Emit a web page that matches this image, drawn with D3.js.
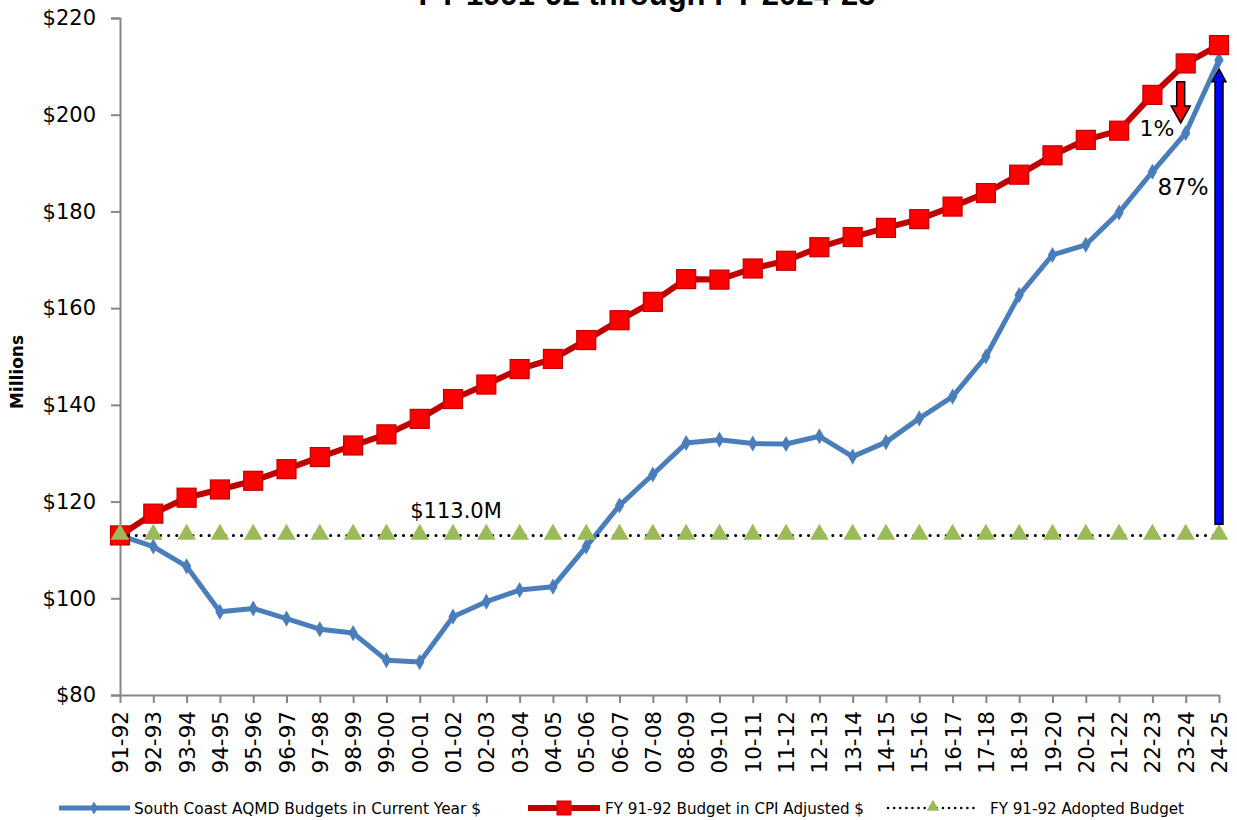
<!DOCTYPE html>
<html lang="en">
<head>
<meta charset="UTF-8">
<title>South Coast AQMD Budget History</title>
<script src="https://cdn.jsdelivr.net/npm/d3@7"></script>
<style>
    body { margin: 0; background: #fff; }
    svg { display: block; font-family: "DejaVu Sans", "Open Sans", sans-serif; }
</style>
</head>
<body>
<div id="chart-space"></div>
<script>
    // fiscal years
    var years = ["91-92","92-93","93-94","94-95","95-96","96-97","97-98","98-99","99-00","00-01",
        "01-02","02-03","03-04","04-05","05-06","06-07","07-08","08-09","09-10","10-11",
        "11-12","12-13","13-14","14-15","15-16","16-17","17-18","18-19","19-20","20-21",
        "21-22","22-23","23-24","24-25"];

    // budgets in current year $ (millions)
    var currentBudget = [113.0,110.7,106.6,97.2,97.9,95.8,93.6,92.8,87.2,86.8,
        96.2,99.3,101.7,102.4,110.7,119.2,125.6,132.1,132.8,132.0,
        131.9,133.5,129.3,132.3,137.2,141.7,150.0,162.7,171.0,173.1,
        179.8,188.2,196.2,211.3];

    // FY 91-92 budget in CPI adjusted $ (millions)
    var cpiBudget = [113.0,117.5,120.8,122.5,124.3,126.7,129.2,131.6,133.9,137.1,
        141.2,144.2,147.4,149.5,153.4,157.5,161.3,166.0,165.9,168.2,
        169.8,172.6,174.7,176.6,178.4,181.0,183.8,187.6,191.6,194.8,
        196.7,204.1,210.6,214.4];

    // FY 91-92 adopted budget
    var adoptedBudget = years.map(function() { return 113.0; });

    var yTicks = [80, 100, 120, 140, 160, 180, 200, 220];

    var width = 1237, height = 820;
    var margin = {top: 18, right: 18, bottom: 125, left: 120};

    var svg = d3.select("#chart-space").append("svg")
        .attr("width", width)
        .attr("height", height);

    var x = d3.scalePoint()
        .domain(years)
        .range([margin.left, width - margin.right]);

    var y = d3.scaleLinear()
        .domain([80, 220])
        .range([height - margin.bottom, margin.top]);

    // title (top of it falls outside the picture, as in the original)
    svg.append("text")
        .attr("x", 647)
        .attr("y", 5)
        .attr("text-anchor", "middle")
        .style("font-family", "Liberation Sans, Arial, sans-serif")
        .style("font-weight", "bold")
        .style("font-size", "31px")
        .text("FY 1991-92 through FY 2024-25");

    // axes
    var yAxis = svg.append("g")
        .attr("transform", "translate(" + margin.left + ",0)")
        .call(d3.axisLeft(y).tickValues(yTicks).tickSize(9).tickPadding(15)
            .tickFormat(function(d) { return "$" + d; }));

    var xAxis = svg.append("g")
        .attr("transform", "translate(0," + (height - margin.bottom) + ")")
        .call(d3.axisBottom(x).tickSize(8).tickSizeOuter(0).tickPadding(9));

    [yAxis, xAxis].forEach(function(a) {
        a.select(".domain").attr("stroke", "#868686").attr("stroke-width", 2);
        a.selectAll(".tick line").attr("stroke", "#868686").attr("stroke-width", 2);
        a.selectAll("text").attr("fill", "#000")
            .style("font-family", "DejaVu Sans, sans-serif");
    });
    yAxis.selectAll("text").style("font-size", "21px");
    xAxis.selectAll("text").style("font-size", "21.5px");

    xAxis.selectAll(".tick text")
        .attr("transform", "rotate(-90)")
        .attr("text-anchor", "end")
        .attr("x", -16)
        .attr("y", 0)
        .attr("dy", "0.35em");

    svg.append("text")
        .attr("transform", "translate(23,372) rotate(-90)")
        .attr("text-anchor", "middle")
        .style("font-weight", "bold")
        .style("font-size", "17px")
        .text("Millions");

    // blue series
    var line = d3.line()
        .x(function(d, i) { return x(years[i]); })
        .y(function(d) { return y(d); });

    svg.append("path")
        .datum(currentBudget)
        .attr("d", line)
        .attr("fill", "none")
        .attr("stroke", "#4a7ebb")
        .attr("stroke-width", 5)
        .attr("stroke-linejoin", "round");

    svg.selectAll(".blue-pt")
        .data(currentBudget)
        .join("path")
        .attr("class", "blue-pt")
        .attr("d", d3.symbol(d3.symbolDiamond, 75))
        .attr("transform", function(d, i) { return "translate(" + x(years[i]) + "," + y(d) + ")"; })
        .attr("fill", "#4a7ebb");

    // red series
    svg.append("path")
        .datum(cpiBudget)
        .attr("d", line)
        .attr("fill", "none")
        .attr("stroke", "#c00000")
        .attr("stroke-width", 6);

    svg.selectAll(".red-pt")
        .data(cpiBudget)
        .join("rect")
        .attr("class", "red-pt")
        .attr("x", function(d, i) { return x(years[i]) - 9.5; })
        .attr("y", function(d) { return y(d) - 9.5; })
        .attr("width", 19)
        .attr("height", 19)
        .attr("fill", "#ff0000")
        .attr("stroke", "#c00000")
        .attr("stroke-width", 1.2);

    // adopted budget, dotted
    svg.append("path")
        .datum(adoptedBudget)
        .attr("d", line)
        .attr("fill", "none")
        .attr("stroke", "#000")
        .attr("stroke-width", 3)
        .attr("stroke-linecap", "round")
        .attr("stroke-dasharray", "0.1 8");

    svg.selectAll(".green-pt")
        .data(adoptedBudget)
        .join("path")
        .attr("class", "green-pt")
        .attr("d", d3.symbol(d3.symbolTriangle, 150))
        .attr("transform", function(d, i) { return "translate(" + x(years[i]) + "," + (y(d) - 1) + ")"; })
        .attr("fill", "#9bbb59");

    // annotations
    svg.append("text")
        .attr("x", x("01-02") + 3)
        .attr("y", y(113.0) - 17)
        .attr("text-anchor", "middle")
        .style("font-size", "21px")
        .text("$113.0M");

    svg.append("text")
        .attr("x", x("22-23") - 13)
        .attr("y", y(195.5))
        .style("font-size", "22px")
        .text("1%");

    svg.append("text")
        .attr("x", x("22-23") + 5)
        .attr("y", y(183.5))
        .style("font-size", "23px")
        .text("87%");

    // arrows
    function vArrow(cx, y0, y1, shaftW, headW, headL, fill) {
        var dir = y1 > y0 ? 1 : -1;
        var hb = y1 - dir * headL;
        var pts = [[cx - shaftW / 2, y0], [cx + shaftW / 2, y0], [cx + shaftW / 2, hb], [cx + headW / 2, hb],
            [cx, y1], [cx - headW / 2, hb], [cx - shaftW / 2, hb]];
        svg.append("path")
            .attr("d", d3.line()(pts) + "Z")
            .attr("fill", fill)
            .attr("stroke", "#000")
            .attr("stroke-width", 1.5)
            .attr("stroke-linejoin", "miter");
    }
    vArrow(x("23-24") - 5, y(206.8), y(198.3), 8, 19, 17, "#ff0000");
    vArrow(x("24-25"), y(115.3), y(209.5), 8, 14, 13, "#0000ff");

    // legend
    var lg = svg.append("g").attr("transform", "translate(0,808)");
    lg.append("line").attr("x1", 59).attr("x2", 130).attr("stroke", "#4a7ebb").attr("stroke-width", 5);
    lg.append("path").attr("d", d3.symbol(d3.symbolDiamond, 50)).attr("transform", "translate(94,0)").attr("fill", "#4a7ebb");
    lg.append("text").attr("x", 134).attr("dy", "0.35em").style("font-size", "16px")
        .attr("textLength", 347).attr("lengthAdjust", "spacingAndGlyphs")
        .text("South Coast AQMD Budgets in Current Year $");

    lg.append("line").attr("x1", 528).attr("x2", 600).attr("stroke", "#c00000").attr("stroke-width", 6);
    lg.append("rect").attr("x", 557).attr("y", -7).attr("width", 14).attr("height", 14)
        .attr("fill", "#ff0000").attr("stroke", "#c00000");
    lg.append("text").attr("x", 605).attr("dy", "0.35em").style("font-size", "16px")
        .attr("textLength", 259).attr("lengthAdjust", "spacingAndGlyphs")
        .text("FY 91-92 Budget in CPI Adjusted $");

    lg.append("line").attr("x1", 888).attr("x2", 978).attr("stroke", "#000").attr("stroke-width", 2.5)
        .attr("stroke-linecap", "round").attr("stroke-dasharray", "0.1 6");
    lg.append("path").attr("d", d3.symbol(d3.symbolTriangle, 70)).attr("transform", "translate(933,-1)").attr("fill", "#9bbb59");
    lg.append("text").attr("x", 990).attr("dy", "0.35em").style("font-size", "16px")
        .attr("textLength", 194).attr("lengthAdjust", "spacingAndGlyphs")
        .text("FY 91-92 Adopted Budget");
</script>
</body>
</html>
